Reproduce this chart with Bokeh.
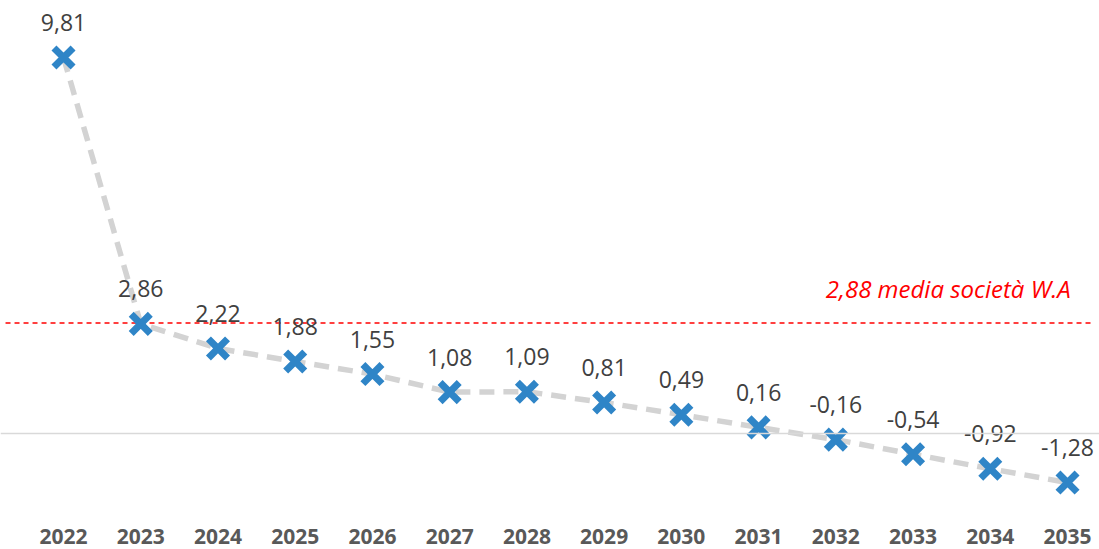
from bokeh.plotting import figure
from bokeh.models import Range1d, Span, FixedTicker, ColumnDataSource
from bokeh.core.properties import value
from bokeh.embed import file_html
from bokeh.resources import INLINE

# Yearly values and the reference average
years = ["2022", "2023", "2024", "2025", "2026", "2027", "2028",
         "2029", "2030", "2031", "2032", "2033", "2034", "2035"]
values = [9.81, 2.86, 2.22, 1.88, 1.55, 1.08, 1.09,
          0.81, 0.49, 0.16, -0.16, -0.54, -0.92, -1.28]
avg_value = 2.88
avg_label = "2,88 media società W.A"

idx = list(range(len(years)))
labels = [f"{v:.2f}".replace(".", ",") for v in values]
src = ColumnDataSource(dict(x=idx, y=values, lab=labels))

FONT = "Open Sans"

p = figure(width=1099, height=549, output_backend="svg", toolbar_location=None,
           x_range=Range1d(-0.816, 13.414), y_range=Range1d(-2.087, 11.297),
           min_border=0, min_border_bottom=36, outline_line_color=None,
           background_fill_color="white", border_fill_color="white")

p.grid.visible = False
p.yaxis.visible = False

xa = p.xaxis[0]
xa.ticker = FixedTicker(ticks=idx)
xa.major_label_overrides = {i: y for i, y in zip(idx, years)}
xa.axis_line_color = None
xa.major_tick_line_color = None
xa.minor_tick_line_color = None
xa.major_tick_out = 0
xa.major_tick_in = 0
xa.major_label_standoff = 15
xa.major_label_text_font = FONT
xa.major_label_text_font_style = "bold"
xa.major_label_text_font_size = "21px"
xa.major_label_text_color = "#595959"

# zero baseline
p.add_layout(Span(location=0, dimension="width", line_color="#D9D9D9", line_width=1.5))

# average reference line
p.segment(x0=[-0.751], x1=[13.30], y0=[avg_value], y1=[avg_value],
          line_color="#FF0000", line_width=1.5, line_dash="5 4")
p.text(x=[13.04], y=[avg_value], text=[avg_label], text_align="right",
       text_baseline="middle", y_offset=-35, text_color="#FF0000",
       text_font=value(FONT), text_font_style="italic", text_font_size="24px")

# series
p.line("x", "y", source=src, line_color="#D3D3D3", line_width=5.5, line_dash="15 9")
p.scatter("x", "y", source=src, marker="x", size=27, line_color="#2F85C7",
          line_width=7)
p.text("x", "y", text="lab", source=src, text_align="center", text_baseline="middle",
       y_offset=-35, text_color="#404040", text_font=value(FONT), text_font_size="23px")

open("out.html", "w").write(file_html(p, INLINE))
